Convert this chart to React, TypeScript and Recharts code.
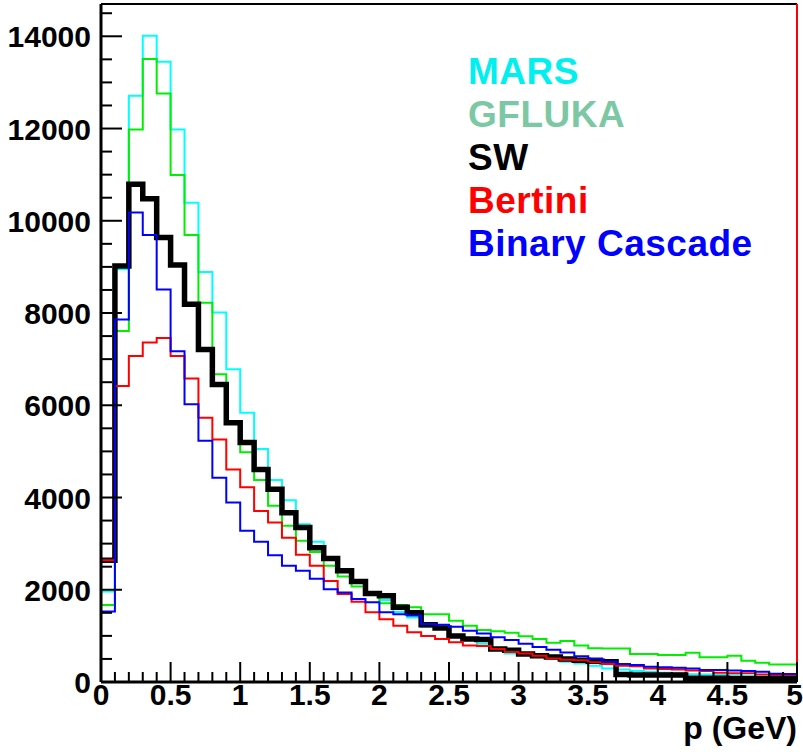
import React from "react";
import { Line, LineChart, ReferenceLine, XAxis, YAxis } from "recharts";

// bin width 0.1 GeV, 50 bins from 0 to 5 GeV
const binEdges = Array.from({ length: 51 }, (_, i) => i / 10);

const mars = [
  1960, 8950, 12710, 14010, 13450, 11980, 10390, 8890, 8010, 6780,
  5840, 5050, 4380, 3940, 3420, 3040, 2700, 2430, 2170, 1920,
  1780, 1520, 1400, 1190, 1150, 1010, 920, 830, 700, 620,
  600, 560, 500, 440, 400, 350, 290, 270, 240, 220,
  200, 190, 170, 160, 150, 140, 130, 120, 110, 100,
];
const gfluka = [
  1670, 7610, 11980, 13510, 12760, 10990, 9690, 8220, 6670, 5620,
  4980, 4380, 3820, 3390, 3060, 2820, 2520, 2290, 2070, 1920,
  1710, 1670, 1620, 1470, 1470, 1330, 1220, 1130, 1100, 1070,
  990, 930, 850, 890, 790, 730, 725, 725, 605, 605,
  585, 585, 635, 534, 534, 570, 460, 420, 380, 380,
];
const sw = [
  2640, 9020, 10790, 10480, 9640, 9040, 8190, 7210, 6450, 5620,
  5190, 4610, 4180, 3670, 3350, 2910, 2680, 2410, 2180, 1920,
  1870, 1620, 1500, 1240, 1170, 1000, 930, 920, 715, 690,
  606, 570, 540, 500, 470, 450, 440, 160, 150, 150,
  150, 150, 80, 80, 80, 70, 70, 70, 70, 70,
];
const bertini = [
  2640, 6420, 7070, 7360, 7460, 7070, 6580, 5730, 5260, 4610,
  4220, 3710, 3460, 3130, 2760, 2520, 2190, 1910, 1740, 1510,
  1360, 1220, 1080, 1000, 930, 860, 790, 780, 715, 650,
  620, 570, 510, 480, 470, 430, 390, 350, 340, 290,
  280, 270, 250, 240, 200, 190, 190, 160, 150, 150,
];
const binary = [
  1530, 7860, 10180, 9690, 8510, 7170, 6020, 5230, 4430, 3890,
  3280, 3040, 2750, 2520, 2410, 2240, 2010, 1940, 1800, 1730,
  1510, 1470, 1440, 1260, 1240, 1200, 1110, 1050, 970, 910,
  830, 760, 700, 640, 560, 510, 440, 390, 370, 330,
  320, 310, 290, 260, 260, 250, 240, 220, 180, 175,
];

const xLabels = ["0", "0.5", "1", "1.5", "2", "2.5", "3", "3.5", "4", "4.5", "5"];
const yLabels = ["0", "2000", "4000", "6000", "8000", "10000", "12000", "14000"];

const series = [
  { key: "mars", name: "MARS", color: "#00ffff", text: "#00f0f0", width: 2 },
  { key: "gfluka", name: "GFLUKA", color: "#00ee00", text: "#7cc8a4", width: 2 },
  { key: "sw", name: "SW", color: "#000000", text: "#000000", width: 5.5 },
  { key: "bertini", name: "Bertini", color: "#ff0000", text: "#ff0000", width: 2 },
  { key: "binary", name: "Binary Cascade", color: "#0000ff", text: "#0000ff", width: 2 },
];

// last edge repeats the last bin so stepAfter closes at x = 5
const data = binEdges.map((p, i) => {
  const j = Math.min(i, 49);
  return {
    p,
    mars: mars[j],
    gfluka: gfluka[j],
    sw: sw[j],
    bertini: bertini[j],
    binary: binary[j],
  };
});

const W = 803;
const H = 752;
const MARGIN = { top: 4, right: 6, left: 0, bottom: 0 };
const Y_AXIS_W = 101;
const X_AXIS_H = 70;
const PLOT_LEFT = MARGIN.left + Y_AXIS_W;
const PLOT_BOTTOM = H - MARGIN.bottom - X_AXIS_H;
const FONT = "'Liberation Sans', Arial, Helvetica, sans-serif";

const xTicks = Array.from({ length: 51 }, (_, i) => i / 10);
const yTicks = Array.from({ length: 30 }, (_, i) => i * 500);

const renderXTick = (props: any) => {
  const { x, index } = props;
  const major = index % 5 === 0;
  const last = index === 50;
  return (
    <g key={`xt-${index}`}>
      <line x1={x} x2={x} y1={PLOT_BOTTOM} y2={PLOT_BOTTOM - (major ? 20 : 10)} stroke="#000" strokeWidth={2} />
      {major && (
        <text
          x={last ? x + 6 : x}
          y={PLOT_BOTTOM + 23}
          textAnchor={last ? "end" : "middle"}
          fontFamily={FONT}
          fontWeight="bold"
          fontSize={30}
          fill="#000"
        >
          {xLabels[index / 5]}
        </text>
      )}
    </g>
  );
};

const renderYTick = (props: any) => {
  const { y, payload, index } = props;
  const major = payload.value % 2000 === 0;
  return (
    <g key={`yt-${index}`}>
      <line x1={PLOT_LEFT} x2={PLOT_LEFT + (major ? 21 : 11)} y1={y} y2={y} stroke="#000" strokeWidth={2} />
      {major && (
        <text x={PLOT_LEFT - 10} y={y + 11} textAnchor="end" fontFamily={FONT} fontWeight="bold" fontSize={30} fill="#000">
          {yLabels[payload.value / 2000]}
        </text>
      )}
    </g>
  );
};

const App = () => {
  return (
    <div style={{ position: "absolute", left: 0, top: 0, width: W, height: H, background: "#fff" }}>
      <LineChart width={W} height={H} data={data} margin={MARGIN}>
        <XAxis
          type="number"
          dataKey="p"
          domain={[0, 5]}
          ticks={xTicks}
          interval={0}
          tickLine={false}
          axisLine={{ stroke: "#000", strokeWidth: 3 }}
          tick={renderXTick}
          height={X_AXIS_H}
        />
        <YAxis
          type="number"
          domain={[0, 14700]}
          ticks={yTicks}
          interval={0}
          tickLine={false}
          axisLine={{ stroke: "#000", strokeWidth: 3 }}
          tick={renderYTick}
          width={Y_AXIS_W}
        />
        {series.map((s) => (
          <Line
            key={s.key}
            type="stepAfter"
            dataKey={s.key}
            stroke={s.color}
            strokeWidth={s.width}
            strokeLinejoin="miter"
            dot={false}
            activeDot={false}
            isAnimationActive={false}
          />
        ))}
        <ReferenceLine y={14700} stroke="#000" strokeWidth={2} />
        <ReferenceLine y={0} stroke="#ff0000" strokeWidth={2} />
        <ReferenceLine x={5} stroke="#ff0000" strokeWidth={2} />
      </LineChart>
      <div
        style={{
          position: "absolute",
          left: 468,
          top: 50,
          fontFamily: FONT,
          fontWeight: "bold",
          fontSize: 37,
          letterSpacing: "0.5px",
          lineHeight: "43px",
          whiteSpace: "nowrap",
        }}
      >
        {series.map((s) => (
          <div key={s.key} style={{ color: s.text }}>
            {s.name}
          </div>
        ))}
      </div>
      <div
        style={{
          position: "absolute",
          right: W - 797,
          top: 712,
          fontFamily: FONT,
          fontWeight: "bold",
          fontSize: 32,
          lineHeight: "32px",
          whiteSpace: "nowrap",
        }}
      >
        p (GeV)
      </div>
    </div>
  );
};

export default App;
